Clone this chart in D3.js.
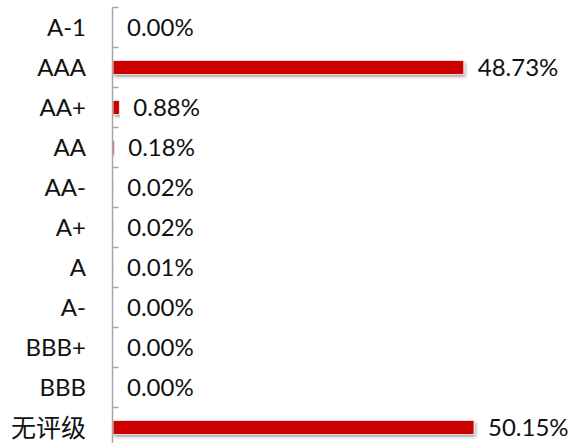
<!DOCTYPE html>
<html>
<head>
<meta charset="utf-8">
<script src="https://cdn.jsdelivr.net/npm/d3@7"></script>
<style>
  html, body { margin: 0; padding: 0; background: #fff; }
  text { font-family: Lato, "Noto Sans CJK SC", sans-serif; fill: #111; }
</style>
</head>
<body>
<svg id="chart" width="572" height="443"></svg>
<script>
// Rating categories, top to bottom
const aCategories = ['A-1', 'AAA', 'AA+', 'AA', 'AA-', 'A+', 'A', 'A-', 'BBB+', 'BBB', '无评级'];
// Share of each rating, in percent
const aValues = [0.00, 48.73, 0.88, 0.18, 0.02, 0.02, 0.01, 0.00, 0.00, 0.00, 50.15];

const iWidth = 572;
const iHeight = 443;
const jPadding = { l: 112.5, t: 7.5 };
const iStep = 40;

const oSvg = d3.select('#chart');

// Soft shadow under the bars
const oFilter = oSvg.append('defs').append('filter')
  .attr('id', 'bar-shadow')
  .attr('x', '-5%').attr('y', '-50%')
  .attr('width', '110%').attr('height', '200%');
oFilter.append('feDropShadow')
  .attr('dx', 1.5).attr('dy', 2)
  .attr('stdDeviation', 1.5)
  .attr('flood-color', '#000')
  .attr('flood-opacity', 0.35);

const aData = aCategories.map((sName, i) => ({ sName, iValue: aValues[i] }));

const oScaleY = d3.scaleBand()
  .domain(aCategories)
  .range([jPadding.t, jPadding.t + iStep * aCategories.length])
  .paddingInner(0.65)
  .paddingOuter(0.325);

const oScaleX = d3.scaleLinear()
  .domain([0, 50.15])
  .range([jPadding.l + 0.5, 474]);

// Bars
oSvg.append('g').attr('class', 'bars-g')
  .selectAll('rect')
  .data(aData)
  .enter()
  .append('rect')
  .attr('x', oScaleX(0))
  .attr('y', d => oScaleY(d.sName))
  .attr('width', d => Math.max(0, oScaleX(d.iValue) - oScaleX(0)))
  .attr('height', oScaleY.bandwidth())
  .attr('fill', '#cc0000')
  .attr('stroke', '#f4f4f4')
  .attr('stroke-width', 0.8)
  .attr('filter', 'url(#bar-shadow)');

// Category axis on the left, ticks pointing into the plot
const oAxisG = oSvg.append('g')
  .attr('class', 'axis-g')
  .attr('transform', `translate(${jPadding.l}, 0)`);
oAxisG.append('line')
  .attr('x1', 0).attr('x2', 0)
  .attr('y1', jPadding.t).attr('y2', iHeight)
  .attr('stroke', '#a6a6a6').attr('stroke-width', 1.5);
oAxisG.selectAll('line.tick-mark')
  .data(d3.range(aCategories.length + 1))
  .enter()
  .append('line')
  .attr('class', 'tick-mark')
  .attr('x1', 0).attr('x2', 6)
  .attr('y1', i => jPadding.t + i * oScaleY.step())
  .attr('y2', i => jPadding.t + i * oScaleY.step())
  .attr('stroke', '#a6a6a6').attr('stroke-width', 1.5);

// Category labels
oSvg.append('g').attr('class', 'labels-g')
  .selectAll('text')
  .data(aCategories)
  .enter()
  .append('text')
  .attr('x', 86)
  .attr('y', d => oScaleY(d) + oScaleY.bandwidth() / 2)
  .attr('dy', '0.36em')
  .attr('text-anchor', 'end')
  .style('font-size', d => (/[\u4e00-\u9fff]/.test(d) ? '25px' : '24px'))
  .text(d => d);

// Value labels
oSvg.append('g').attr('class', 'values-g')
  .selectAll('text')
  .data(aData)
  .enter()
  .append('text')
  .attr('x', d => oScaleX(d.iValue) + 14)
  .attr('y', d => oScaleY(d.sName) + oScaleY.bandwidth() / 2)
  .attr('dy', '0.36em')
  .style('font-size', '24px')
  .text(d => `${d.iValue.toFixed(2)}%`);
</script>
</body>
</html>
